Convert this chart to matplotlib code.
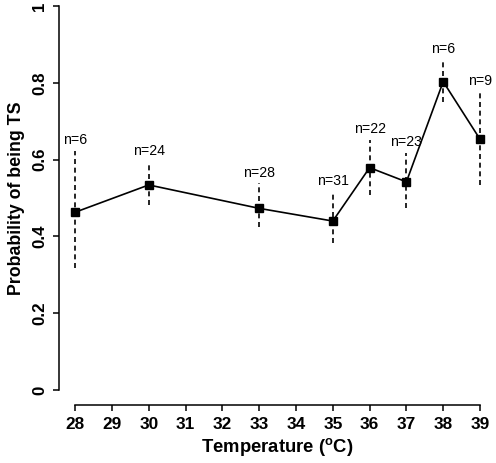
import matplotlib
matplotlib.use("Agg")
import matplotlib.pyplot as plt

plt.rcParams['font.family'] = ['Liberation Sans', 'DejaVu Sans']

temps = [28, 30, 33, 35, 36, 37, 38, 39]
prob = [0.463, 0.534, 0.473, 0.440, 0.579, 0.542, 0.803, 0.653]
upper = [0.623, 0.595, 0.538, 0.516, 0.651, 0.618, 0.861, 0.777]
lower = [0.317, 0.482, 0.425, 0.384, 0.508, 0.473, 0.751, 0.534]
counts = [6, 24, 28, 31, 22, 23, 6, 9]
xticks = list(range(28, 40))
yticks = [0, 0.2, 0.4, 0.6, 0.8, 1]
ytick_labels = ["0", "0.2", "0.4", "0.6", "0.8", "1"]

fig = plt.figure(figsize=(4.96, 4.63), dpi=100)
ax = fig.add_axes([59 / 496, 57.6 / 463, 437.2 / 496, 414.8 / 463])

ax.vlines(temps, lower, upper, colors="black", linestyles=(0, (3, 2.2)), linewidth=1.2)
ax.plot(temps, prob, color="black", linewidth=1.2, marker="s", markersize=5.8)
for t, u, n in zip(temps, upper, counts):
    ax.text(t, u + 0.01, f"n={n}", ha="center", va="bottom", fontsize=10.2)

ax.set_xlim(27.56, 39.44)
ax.set_ylim(-0.04, 1.04)
for s in ["top", "right"]:
    ax.spines[s].set_visible(False)
ax.spines["left"].set_bounds(0, 1)
ax.spines["bottom"].set_bounds(28, 39)
ax.spines["left"].set_linewidth(1.1)
ax.spines["bottom"].set_linewidth(1.1)

ax.set_xticks(xticks)
ax.set_xticklabels([str(x) for x in xticks], fontsize=12.4, fontweight="bold")
ax.set_yticks(yticks)
ax.set_yticklabels(ytick_labels, fontsize=12.2, fontweight="bold", rotation=90, va="center")
ax.tick_params(direction="out", length=4.5, width=1.1, pad=4)

ax.set_xlabel("Temperature ($\\mathregular{^{o}}$C)", fontsize=13.3, fontweight="bold", labelpad=3)
ax.set_ylabel("Probability of being TS", fontsize=12.8, fontweight="bold", labelpad=5)

fig.savefig("out.png", dpi=100)
